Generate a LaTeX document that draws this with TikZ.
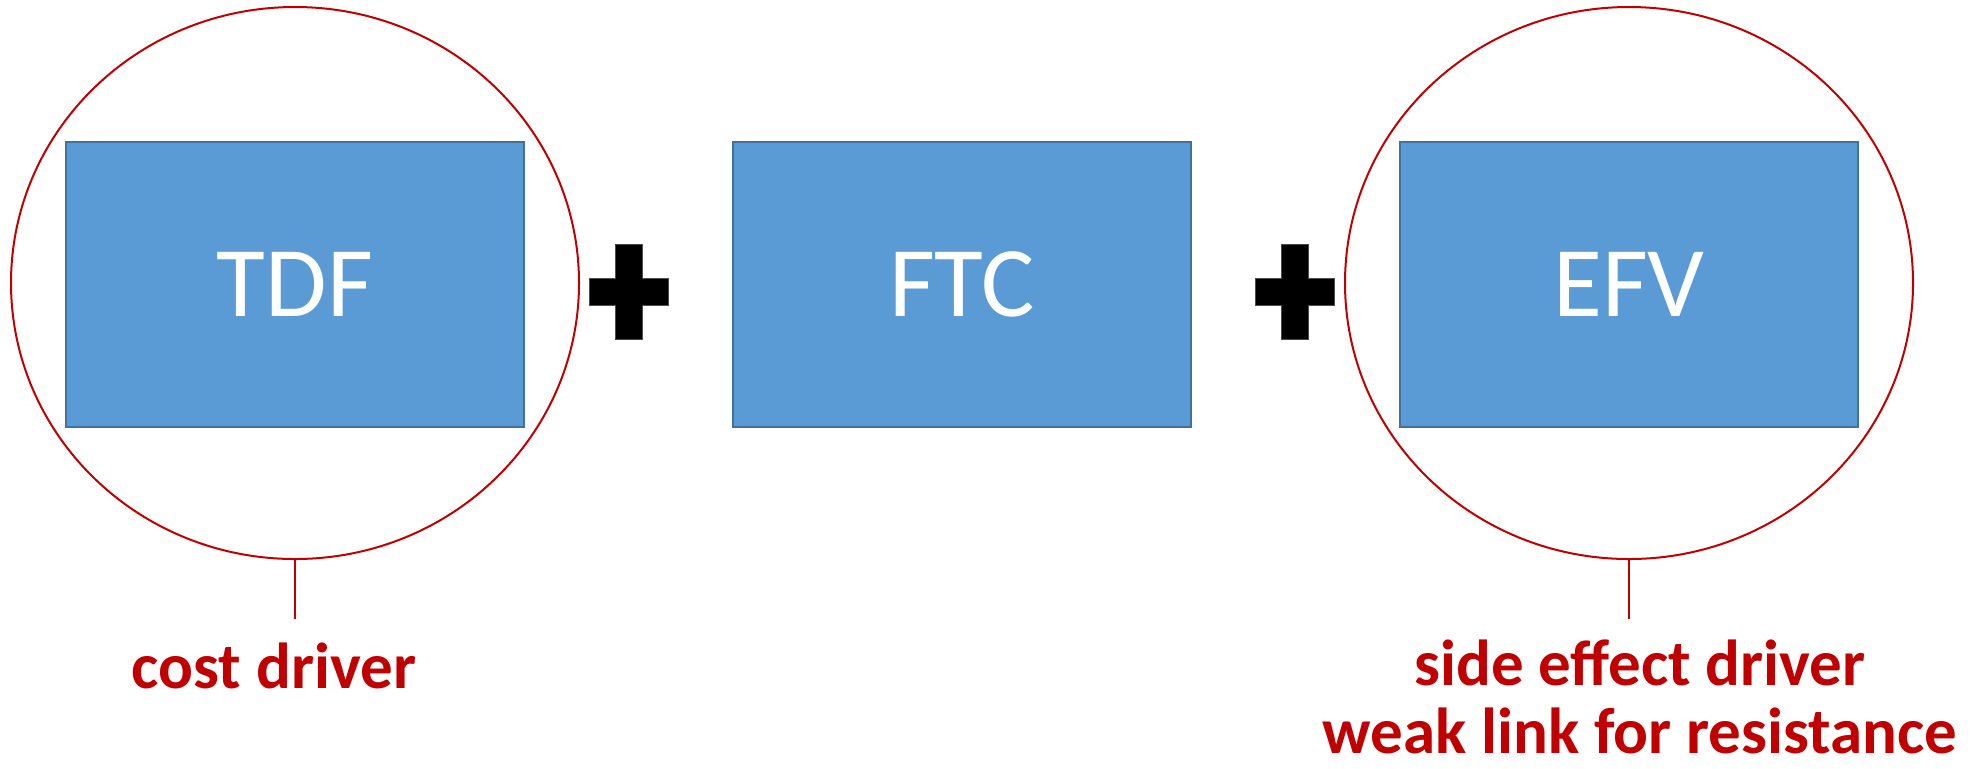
\documentclass[tikz,border=0pt]{standalone}
\usepackage{fontspec}
\setmainfont{Carlito}
\usetikzlibrary{shapes.geometric}
\definecolor{boxfill}{HTML}{5B9BD5}
\definecolor{boxline}{HTML}{41719C}
\definecolor{redline}{HTML}{C00000}
\tikzset{
  bluebox/.style={draw=boxline, line width=1pt, fill=boxfill, rectangle,
    minimum width=229pt, minimum height=142.5pt, inner sep=0pt,
    text=white, font=\fontsize{50}{60}\selectfont},
  ring/.style={draw=redline, line width=1pt, ellipse, inner sep=0pt,
    minimum width=284pt, minimum height=276pt},
  tick/.style={draw=redline, line width=0.7pt},
  note/.style={text=redline, font=\bfseries\fontsize{32.5}{34}\selectfont, align=center, anchor=base, inner sep=0pt},
  plusfill/.style={fill=black, draw=black!70, line width=0.4pt}
}
\begin{document}
\begin{tikzpicture}[x=0.5pt,y=-0.5pt]
\useasboundingbox[fill=white] (0,0) rectangle (1984,768);
% ellipses
\node[ring] (e1) at (295,283) {};
\node[ring] (e2) at (1629,283) {};
% boxes
\node[bluebox] (tdf) at (295,284.5) {TDF};
\node[bluebox] (ftc) at (962,284.5) {FTC};
\node[bluebox] (efv) at (1629,284.5) {EFV};
% plus signs
\fill[plusfill] (615,244) -- (642,244) -- (642,278) -- (668,278) -- (668,305) -- (642,305) -- (642,339) -- (615,339) -- (615,305) -- (589,305) -- (589,278) -- (615,278) -- cycle;
\fill[plusfill] (1281,244) -- (1308,244) -- (1308,278) -- (1334,278) -- (1334,305) -- (1308,305) -- (1308,339) -- (1281,339) -- (1281,305) -- (1255,305) -- (1255,278) -- (1281,278) -- cycle;
% ticks
\coordinate (c1) at (295,619);
\coordinate (c2) at (1629,619);
\draw[tick] (e1.south) -- (c1);
\draw[tick] (e2.south) -- (c2);
% notes
\node[note] (n1) at (274,688) {cost driver};
\node[note] (n2) at (1640,753) {side effect driver\\weak link for resistance};
\end{tikzpicture}
\end{document}
